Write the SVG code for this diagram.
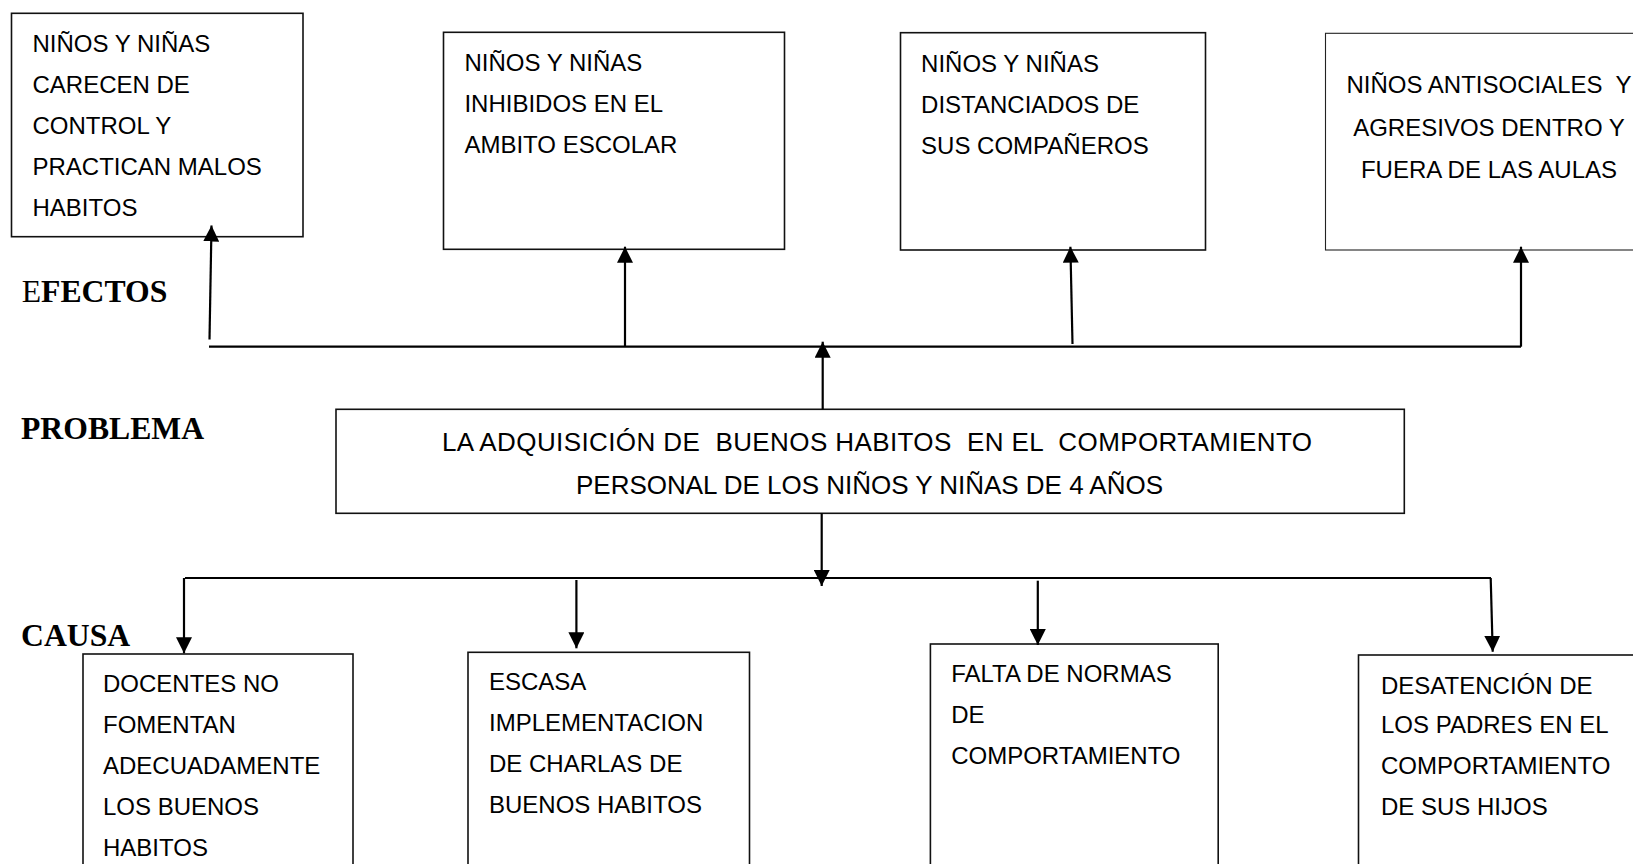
<svg xmlns="http://www.w3.org/2000/svg" width="1633" height="864" viewBox="0 0 1633 864">
<style>
.box{fill:#fff;stroke:#111;stroke-width:1.6}
.thin{fill:#fff;stroke:#222;stroke-width:1.1}
.t{font-family:"Liberation Sans",Arial,sans-serif;font-size:24px;fill:#000}
.t.p{font-size:26px}
.lbl{font-family:"Liberation Serif","Times New Roman",serif;font-size:31.7px;font-weight:bold;fill:#000}
.lbl .r{font-weight:normal}
.c line{stroke:#000;stroke-width:2.2}
</style>
<defs>
<marker id="ah" markerUnits="userSpaceOnUse" markerWidth="16" markerHeight="16" viewBox="0 0 15 15" refX="15" refY="7.5" orient="auto">
<path d="M0,0 L15,7.5 L0,15 z" fill="#000"/>
</marker>
</defs>
<rect width="1633" height="864" fill="#fff"/>

<g id="labels">
<text class="lbl" x="21.7" y="301.7"><tspan class="r">E</tspan>FECTOS</text>
<text class="lbl" x="21" y="439.3">PROBLEMA</text>
<text class="lbl" x="21" y="646">CAUSA</text>
</g>

<g id="efecto1">
<rect class="box" x="11.5" y="13.3" width="291.5" height="223.4"/>
<text class="t" x="32.5" y="51.7">NIÑOS Y NIÑAS</text>
<text class="t" x="32.5" y="93.3">CARECEN DE</text>
<text class="t" x="32.5" y="134">CONTROL Y</text>
<text class="t" x="32.5" y="175">PRACTICAN MALOS</text>
<text class="t" x="32.5" y="216">HABITOS</text>
</g>

<g id="efecto2">
<rect class="box" x="443.5" y="32.3" width="341" height="217"/>
<text class="t" x="464.4" y="70.7">NIÑOS Y NIÑAS</text>
<text class="t" x="464.4" y="111.7">INHIBIDOS EN EL</text>
<text class="t" x="464.4" y="152.7">AMBITO ESCOLAR</text>
</g>

<g id="efecto3">
<rect class="box" x="900.5" y="32.7" width="305" height="217.3"/>
<text class="t" x="921.1" y="71.5">NIÑOS Y NIÑAS</text>
<text class="t" x="921.1" y="112.5">DISTANCIADOS DE</text>
<text class="t" x="921.1" y="153.5">SUS COMPAÑEROS</text>
</g>

<g id="efecto4">
<rect class="thin" x="1325.5" y="33.3" width="340" height="216.7"/>
<text class="t" x="1489" y="93.3" text-anchor="middle" xml:space="preserve">NIÑOS ANTISOCIALES  Y</text>
<text class="t" x="1489" y="135.5" text-anchor="middle">AGRESIVOS DENTRO Y</text>
<text class="t" x="1489" y="177.7" text-anchor="middle">FUERA DE LAS AULAS</text>
</g>

<g id="problema">
<rect class="box" x="336" y="409.3" width="1068.3" height="104"/>
<text class="t p" x="442" y="450.7" textLength="870" lengthAdjust="spacing" xml:space="preserve">LA ADQUISICIÓN DE  BUENOS HABITOS  EN EL  COMPORTAMIENTO</text>
<text class="t p" x="576" y="494.3" textLength="587" lengthAdjust="spacing">PERSONAL DE LOS NIÑOS Y NIÑAS DE 4 AÑOS</text>
</g>

<g id="causa1">
<rect class="box" x="83" y="654" width="270" height="240"/>
<text class="t" x="103" y="692.3">DOCENTES NO</text>
<text class="t" x="103" y="733.3">FOMENTAN</text>
<text class="t" x="103" y="774.3">ADECUADAMENTE</text>
<text class="t" x="103" y="815">LOS BUENOS</text>
<text class="t" x="103" y="856">HABITOS</text>
</g>

<g id="causa2">
<rect class="box" x="468" y="652.3" width="281.5" height="240"/>
<text class="t" x="489" y="690">ESCASA</text>
<text class="t" x="489" y="730.7">IMPLEMENTACION</text>
<text class="t" x="489" y="772.3">DE CHARLAS DE</text>
<text class="t" x="489" y="813.3">BUENOS HABITOS</text>
</g>

<g id="causa3">
<rect class="box" x="930.4" y="644" width="287.8" height="250"/>
<text class="t" x="951.2" y="682.3">FALTA DE NORMAS</text>
<text class="t" x="951.2" y="723.3">DE</text>
<text class="t" x="951.2" y="764">COMPORTAMIENTO</text>
</g>

<g id="causa4">
<rect class="box" x="1358.5" y="655" width="300" height="240"/>
<text class="t" x="1381" y="694">DESATENCIÓN DE</text>
<text class="t" x="1381" y="733.3">LOS PADRES EN EL</text>
<text class="t" x="1381" y="774.3">COMPORTAMIENTO</text>
<text class="t" x="1381" y="815">DE SUS HIJOS</text>
</g>

<g id="connectors" class="c">
<line x1="209" y1="346.7" x2="1521" y2="346.7"/>
<line x1="209.5" y1="339.5" x2="211.5" y2="225.5" marker-end="url(#ah)"/>
<line x1="625" y1="346.7" x2="625" y2="246.7" marker-end="url(#ah)"/>
<line x1="1072.5" y1="344" x2="1070.4" y2="246.7" marker-end="url(#ah)"/>
<line x1="1521" y1="346.7" x2="1521" y2="246.7" marker-end="url(#ah)"/>
<line x1="822.7" y1="409.3" x2="822.7" y2="341.7" marker-end="url(#ah)"/>
<line x1="821.7" y1="513.3" x2="821.7" y2="586" marker-end="url(#ah)"/>
<line x1="185" y1="578" x2="1491" y2="578"/>
<line x1="184" y1="578" x2="184" y2="653.3" marker-end="url(#ah)"/>
<line x1="576.4" y1="580" x2="576.4" y2="648.3" marker-end="url(#ah)"/>
<line x1="1037.8" y1="580.7" x2="1037.8" y2="645" marker-end="url(#ah)"/>
<line x1="1490.7" y1="578" x2="1492.7" y2="651.7" marker-end="url(#ah)"/>
</g>
</svg>
